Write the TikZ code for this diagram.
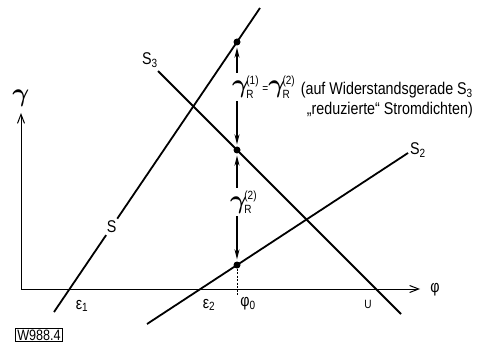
\documentclass[tikz,border=0pt]{standalone}
\usepackage{fix-cm}
\usepackage{amsmath}
\usepackage{fontspec}
\setmainfont{Liberation Sans}[FakeStretch=0.84]
\usetikzlibrary{calc,arrows.meta}

\newcommand{\gam}{\mbox{\fontsize{26}{28}\selectfont\boldmath$\gamma$}}
\newcommand{\gR}[1]{$\gam\mkern-3mu^{\text{(#1)}}_{\text{R}}$}

\tikzset{
  kurve/.style={line width=1.8pt},
  achse/.style={line width=1pt, -{Straight Barb[length=9pt,width=7pt]}},
  pfeil/.style={line width=1.2pt, -{Stealth[length=10pt,width=5pt]}, shorten >=2pt},
  punkt/.style={circle, fill, inner sep=0pt, minimum size=7pt},
  lbl/.style={font=\fontsize{17}{20}\selectfont, inner sep=2pt},
}

\begin{document}
\begin{tikzpicture}[x=1pt, y=1pt]
  % Rand wie im Original
  \useasboundingbox (-21,-59) rectangle (465,289);
  % Achsen
  \coordinate (O) at (0,0);
  \coordinate (Ytip) at (0,176);
  \coordinate (Xtip) at (399,0);
  \draw[achse] (O) -- (Ytip);
  \draw[achse] (O) -- (Xtip);
  \node[lbl] (ylbl) at (0,191) {\gam};
  \node[lbl] (xlbl) at (414,-1) {φ};
  % Geraden S, S3, S2
  \coordinate (Sa) at (33,-23);
  \coordinate (Sb) at (239,281);
  \coordinate (Ta) at (137,218);
  \coordinate (Tb) at (380,-25);
  \coordinate (Ua) at (126,-35);
  \coordinate (Ub) at (387,136);
  \node[lbl] (Slbl) at ($(Sa)!0.28!(Sb)$) {S};
  \draw[kurve] (Sa) -- (Slbl) -- (Sb);
  \draw[kurve] (Ta) -- (Tb);
  \draw[kurve] (Ua) -- (Ub);
  \node[lbl] (S3lbl) at (129,229) {S$_\text{3}$};
  \node[lbl] (S2lbl) at (397,139) {S$_\text{2}$};
  % Punkte bei phi_0
  \node[punkt] (P1) at (216,247) {};
  \node[punkt] (P2) at (216,139) {};
  \node[punkt] (P3) at (216,24) {};
  \coordinate (F) at (216,-7);
  \draw[line width=0.9pt, dash pattern=on 2pt off 1.5pt] (P3) -- (F);
  % Achsenbeschriftung
  \node[lbl] (e1) at (61,-17) {ε$_\text{1}$};
  \node[lbl] (e2) at (188,-16) {ε$_\text{2}$};
  \node[lbl] (phi0) at (227,-15) {φ$_\text{0}$};
  \node[font=\fontsize{12}{12}\selectfont] (U) at (347,-15) {U};
  % Stromdichten
  \node[lbl, anchor=base west, inner sep=3pt] (g1) at (208,196) {\gR{1}};
  \node[lbl, anchor=base west, inner sep=0pt] (g1b) at (g1.base east)
    {{\fontsize{12}{12}\selectfont=}\gR{2}};
  \node[lbl, anchor=base west, inner sep=3pt] (g2) at (206,81) {\gR{2}};
  \draw[pfeil] (P1 |- g1.north) -- (P1);
  \draw[pfeil] (P2 |- g1.south) -- (P2);
  \draw[pfeil] (P2 |- g2.north) -- (P2);
  \draw[pfeil] (P3 |- g2.south) -- (P3);
  \node[lbl, anchor=base east, inner sep=0pt] (n1) at (452,194)
    {(auf Widerstandsgerade S$_\text{3}$};
  \node[lbl, anchor=base east, inner sep=0pt] (n2) at (452,174)
    {„reduzierte“ Stromdichten)};
  % Bildnummer
  \node[draw, line width=1pt, inner xsep=2pt, inner ysep=1pt,
    font=\fontsize{15}{15}\selectfont] (wnr) at (18,-46) {W988.4};
\end{tikzpicture}
\end{document}
